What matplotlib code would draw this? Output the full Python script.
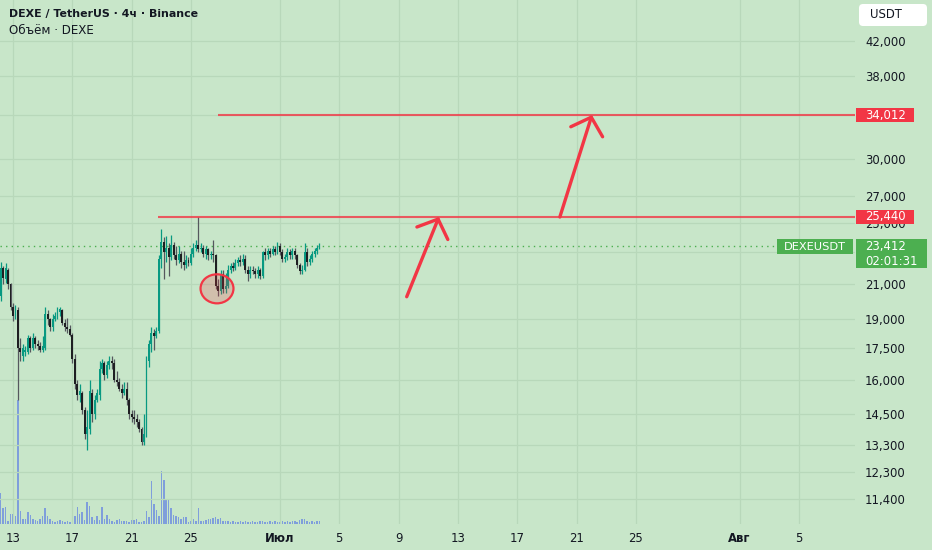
import numpy as np
import pandas as pd
import matplotlib
matplotlib.use("Agg")
import matplotlib.pyplot as plt
import matplotlib.dates as mdates
from matplotlib.patches import Ellipse, Rectangle, FancyBboxPatch
from matplotlib.ticker import FixedLocator, FuncFormatter, NullLocator
from matplotlib.transforms import IdentityTransform

# DEXE/USDT, свечи 4ч с 12 июня 04:00
opens = [20300, 22000, 21300, 21900, 21000, 19700, 19200, 19500, 17500, 17100,
         17300, 17300, 18000, 17500, 18000, 17700, 17600, 17400, 17500, 19300,
         19000, 18600, 19000, 19100, 19400, 19500, 18800, 18600, 18500, 18200,
         17000, 15800, 15300, 15400, 14700, 13700, 13900, 15400, 14500, 15100,
         15300, 16500, 16800, 16200, 16700, 16900, 16800, 16000, 15900, 15600,
         15400, 15600, 15100, 14500, 14400, 14300, 14200, 13900, 13400, 13700,
         16900, 17700, 18300, 18100, 18400, 22600, 23700, 23000, 23300, 22700,
         23500, 22800, 22500, 22900, 22400, 22200, 22500, 22300, 22900, 23300,
         23500, 23200, 23300, 22900, 23200, 22800, 22900, 22800, 20900, 20600,
         21600, 20700, 20900, 21900, 22100, 22000, 22300, 22500, 22400, 22600,
         21900, 21600, 21900, 21800, 21600, 21900, 21500, 23000, 22800, 23100,
         22900, 23200, 23000, 23400, 23000, 22600, 22700, 23000, 22800, 23100,
         22800, 22200, 21800, 21900, 23000, 22400, 22600, 22900, 23100, 23300]
highs = [22400, 22100, 22300, 22000, 21100, 19900, 19800, 19700, 18000, 17700,
         17600, 18200, 18100, 18300, 18100, 17900, 17800, 18100, 19700, 19500,
         19100, 19300, 19400, 19700, 19700, 19600, 19000, 19100, 18700, 18300,
         17200, 16000, 15800, 15500, 14800, 14700, 16000, 15600, 15300, 15600,
         16900, 17000, 16900, 16900, 17100, 17100, 17000, 16400, 16100, 15800,
         15900, 15900, 15200, 14700, 14700, 14500, 14300, 14000, 14500, 17100,
         17900, 18600, 18500, 18600, 22800, 24600, 24000, 24100, 23600, 24200,
         23700, 23400, 23400, 23100, 23100, 22800, 22700, 23300, 23600, 23800,
         25440, 23600, 23500, 23400, 23300, 23100, 23800, 22900, 21300, 21900,
         21900, 21700, 22200, 22300, 22400, 22600, 22700, 22800, 22900, 22800,
         22100, 22100, 22100, 22000, 22100, 22000, 23100, 23300, 23300, 23300,
         23400, 23400, 23700, 23600, 23200, 22900, 23300, 23200, 23300, 23300,
         22900, 22300, 22200, 23600, 23300, 22800, 23100, 23300, 23500, 23600]
lows = [20000, 21000, 21100, 20700, 19500, 18900, 19000, 15100, 16900, 16900,
        17100, 17200, 17300, 17400, 17500, 17400, 17300, 17300, 17400, 18700,
        18400, 18400, 18900, 19000, 19200, 18700, 18400, 18300, 18100, 16800,
        15600, 15100, 15000, 14500, 13500, 13100, 13700, 14200, 14300, 15000,
        15100, 16300, 16000, 16100, 16500, 16500, 15900, 15700, 15500, 15200,
        15300, 14900, 14300, 14200, 14100, 14000, 13800, 13300, 13300, 13600,
        16600, 17300, 17400, 18000, 18300, 22000, 21300, 22400, 21500, 22500,
        22600, 22200, 22300, 22000, 21900, 22000, 22100, 22200, 22700, 23100,
        23000, 23000, 22700, 22600, 22500, 22600, 22400, 20700, 20300, 20400,
        20500, 20500, 20800, 21700, 21800, 21900, 22100, 22100, 22200, 21700,
        21200, 21400, 21600, 21400, 21400, 21300, 21400, 22500, 22600, 22700,
        22800, 22800, 22900, 22800, 22400, 22400, 22500, 22600, 22600, 22600,
        22000, 21600, 21600, 21800, 22100, 22200, 22400, 22700, 22900, 23200]
closes = [22000, 21400, 22000, 21000, 19700, 19200, 19600, 17500, 17300, 17500,
          17400, 18000, 17500, 18000, 17700, 17600, 17400, 17600, 19300, 19000,
          18600, 19000, 19200, 19500, 19600, 18800, 18600, 18500, 18200, 17000,
          15800, 15300, 15500, 14700, 13700, 14000, 15500, 14500, 15100, 15400,
          16500, 16800, 16200, 16700, 16900, 16800, 16000, 15900, 15600, 15400,
          15600, 15100, 14500, 14400, 14300, 14200, 13900, 13400, 13700, 16900,
          17700, 18300, 18100, 18400, 22600, 23700, 23000, 23300, 22700, 23500,
          22800, 22500, 22900, 22400, 22200, 22500, 22300, 22900, 23300, 23500,
          23200, 23300, 22900, 23200, 22800, 22900, 22800, 20900, 20600, 21600,
          20700, 20900, 21900, 22100, 22000, 22300, 22500, 22400, 22600, 21900,
          21600, 21900, 21800, 21600, 21900, 21500, 23000, 22800, 23100, 22900,
          23200, 23000, 23400, 23000, 22600, 22700, 23000, 22800, 23100, 22800,
          22200, 21800, 21900, 23000, 22400, 22600, 22900, 23100, 23300, 23412]
volumes = [3100, 1600, 1700, 300, 1000, 1000, 800, 12400, 1300, 500,
           500, 1200, 900, 500, 400, 300, 500, 800, 1600, 800,
           500, 300, 200, 300, 400, 300, 200, 300, 200, 200,
           800, 1700, 1000, 1200, 400, 2200, 1800, 700, 400, 800,
           400, 1700, 500, 900, 500, 300, 200, 400, 500, 300,
           300, 300, 200, 400, 400, 500, 200, 200, 300, 1300,
           700, 4300, 2000, 1400, 800, 5300, 4400, 2500, 2400, 1600,
           900, 800, 700, 500, 700, 700, 200, 300, 500, 300,
           1600, 300, 300, 400, 500, 500, 600, 700, 500, 600,
           300, 300, 300, 200, 300, 200, 200, 300, 200, 300,
           200, 200, 300, 200, 200, 300, 300, 200, 200, 300,
           200, 300, 200, 200, 300, 200, 300, 200, 300, 300,
           200, 400, 500, 500, 300, 200, 300, 200, 300, 300]

price_ticks = [11400, 12300, 13300, 14500, 16000, 17500, 19000, 21000, 23000,
               25000, 27000, 30000, 34000, 38000, 42000]
hidden_ticks = [23000, 34000]   # закрыты метками цены
date_ticks = ["2025-06-13", "2025-06-17", "2025-06-21", "2025-06-25", "2025-07-01",
              "2025-07-05", "2025-07-09", "2025-07-13", "2025-07-17", "2025-07-21",
              "2025-07-25", "2025-08-01", "2025-08-05"]
date_labels = ["13", "17", "21", "25", "Июл", "5", "9", "13", "17", "21", "25", "Авг", "5"]
month_labels = ["Июл", "Авг"]

# уровни и разметка
level_low, level_low_start = 25440, "2025-06-22 18:40"
level_high, level_high_start = 34012, "2025-06-26 19:40"
last_price = 23412
countdown = "02:01:31"
arrows = [(("2025-07-09 13:10", 20270), ("2025-07-11 17:20", 25440)),
          (("2025-07-19 21:00", 25440), ("2025-07-22 01:00", 34012))]
circle_center = ("2025-06-26 18:10", 20750)
circle_w_days, circle_h = 2.22, 1715

BG = "#c8e6c9"
GRID = "#b8d8ba"
UP = "#089981"
DOWN = "#1e1f22"
DOWN_WICK = "#55585e"
RED = "#f23645"
GREEN = "#4caf50"
TXT = "#131722"
VOL = "#7f9edb"

W, H = 932, 550
fig = plt.figure(figsize=(W / 100, H / 100), dpi=100)
fig.patch.set_facecolor(BG)
rect = [0, 26 / H, 855 / W, 524 / H]
ax_vol = fig.add_axes(rect)
ax = fig.add_axes(rect, sharex=ax_vol)
ax_vol.set_facecolor(BG)
ax.patch.set_visible(False)

times = pd.date_range("2025-06-12 04:00", periods=len(closes), freq="4h")
x = mdates.date2num(times)
o = np.array(opens, float)
h = np.array(highs, float)
l = np.array(lows, float)
c = np.array(closes, float)
up = c >= o

# объём
ax_vol.bar(x, volumes, width=0.1, color=VOL, linewidth=0)
ax_vol.set_ylim(0, 52400)
ax_vol.axis("off")

# свечи
ax.vlines(x[up], l[up], h[up], color=UP, lw=0.9, zorder=3)
ax.vlines(x[~up], l[~up], h[~up], color=DOWN_WICK, lw=0.9, zorder=3)
body_lo = np.minimum(o, c)
body_h = np.maximum(np.abs(c - o), 30)
ax.bar(x[up], body_h[up], bottom=body_lo[up], width=0.13, color=UP, linewidth=0, zorder=4)
ax.bar(x[~up], body_h[~up], bottom=body_lo[~up], width=0.13, color=DOWN, linewidth=0, zorder=4)

ax.set_yscale("log")
ax.set_ylim(10610, 47200)
ax.set_xlim(mdates.date2num(pd.Timestamp("2025-06-12 02:58")),
            mdates.date2num(pd.Timestamp("2025-08-08 18:39")))

ax.yaxis.set_major_locator(FixedLocator(price_ticks))
ax.yaxis.set_minor_locator(NullLocator())
ax.yaxis.set_major_formatter(FuncFormatter(
    lambda v, _: "" if int(round(v)) in hidden_ticks else f"{int(round(v)):,}"))
ax.yaxis.tick_right()
ax.tick_params(axis="y", length=0, pad=7.2, labelsize=8.4, labelcolor=TXT)

ax.set_xticks(mdates.date2num(pd.to_datetime(date_ticks)))
ax.set_xticklabels(date_labels)
ax.tick_params(axis="x", length=0, pad=6, labelsize=8.4, labelcolor=TXT)
for t in ax.get_xticklabels():
    if t.get_text() in month_labels:
        t.set_fontweight("bold")
for s in ax.spines.values():
    s.set_visible(False)
ax.grid(True, color=GRID, lw=0.9)
ax.set_axisbelow(True)

# горизонтальные уровни
for price, start in [(level_low, level_low_start), (level_high, level_high_start)]:
    ax.hlines(price, mdates.date2num(pd.Timestamp(start)), ax.get_xlim()[1],
              color=RED, lw=1.5, alpha=0.8, zorder=5)

ax.axhline(last_price, color=GREEN, lw=1, ls=(0, (1, 3)), zorder=2)

for (t0, p0), (t1, p1) in arrows:
    ax.annotate("", xy=(mdates.date2num(pd.Timestamp(t1)), p1),
                xytext=(mdates.date2num(pd.Timestamp(t0)), p0),
                arrowprops=dict(arrowstyle="->,head_length=1.1,head_width=1.2",
                                color=RED, lw=2.4, mutation_scale=10,
                                shrinkA=0, shrinkB=0), zorder=6)

ax.add_patch(Ellipse((mdates.date2num(pd.Timestamp(circle_center[0])), circle_center[1]),
                     circle_w_days, circle_h, facecolor=(0.95, 0.21, 0.27, 0.22),
                     edgecolor=RED, lw=1.6, zorder=6))

# подписи цены на шкале
def y_px(price):
    return ax.transData.transform((ax.get_xlim()[0], price))[1]

def tag(x0, w, yc, hgt, color, zorder=10):
    fig.add_artist(Rectangle((x0, yc - hgt / 2), w, hgt, transform=IdentityTransform(),
                             facecolor=color, edgecolor="none", zorder=zorder))

for price in [level_high, level_low]:
    yc = y_px(price)
    tag(856, 58, yc, 14, RED)
    fig.text(865 / W, yc / H, f"{price:,}", color="white", fontsize=8.4,
             va="center", ha="left", zorder=11)

yc = y_px(last_price)
tag(777, 76, yc - 0.5, 15, GREEN)
fig.text(815 / W, (yc - 0.5) / H, "DEXEUSDT", color="white", fontsize=8.2,
         va="center", ha="center", zorder=11)
tag(856, 71, yc - 7.5, 29, GREEN)
fig.text(865 / W, (yc - 0.5) / H, f"{last_price:,}", color="white", fontsize=8.4,
         va="center", ha="left", zorder=11)
fig.text(865 / W, (yc - 15) / H, countdown, color="white", fontsize=8.4,
         va="center", ha="left", zorder=11)

fig.add_artist(FancyBboxPatch((859, H - 26), 68, 22, boxstyle="round,pad=0,rounding_size=4",
                              transform=IdentityTransform(), facecolor="white",
                              edgecolor="none", zorder=10))
fig.text(886 / W, 1 - 15 / H, "USDT", color=TXT, fontsize=8.4, va="center",
         ha="center", zorder=11)

fig.text(9 / W, 1 - 14 / H, "DEXE / TetherUS · 4ч · Binance", color=TXT,
         fontsize=7.9, fontweight="bold", va="center", ha="left")
fig.text(9 / W, 1 - 30 / H, "Объём · DEXE", color=TXT, fontsize=8.6,
         va="center", ha="left")

fig.savefig("out.png", dpi=100, facecolor=BG)
